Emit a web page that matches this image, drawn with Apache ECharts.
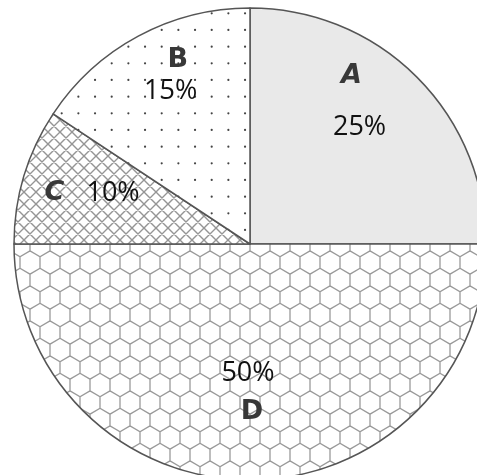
<!DOCTYPE html>
<html>
<head>
<meta charset="utf-8">
<script src="https://cdn.jsdelivr.net/npm/echarts@6/dist/echarts.min.js"></script>
<style>
html,body{margin:0;padding:0;background:#fff;}
#chart{width:477px;height:475px;}
</style>
</head>
<body>
<div id="chart"></div>
<script>
// Data (clockwise from 12 o'clock)
const categories = ['A', 'D', 'C', 'B'];
const values = [25, 50, 9.3, 15.7];
const percentLabels = ['25%', '50%', '10%', '15%'];

function makeCanvas(w, h) {
  const c = document.createElement('canvas');
  c.width = w; c.height = h;
  return c;
}
// Dots pattern
function dotsPattern() {
  const c = makeCanvas(50, 50), g = c.getContext('2d');
  g.fillStyle = '#fff'; g.fillRect(0, 0, 50, 50);
  g.fillStyle = '#444';
  for (let i = 0; i < 3; i++) for (let j = 0; j < 3; j++) {
    g.beginPath();
    g.arc(11.7 + 16.67 * i, 13.3 + 16.67 * j, 1.1, 0, Math.PI * 2);
    g.fill();
  }
  return c;
}
// Crosshatch pattern
function crossPattern() {
  const s = 12;
  const c = makeCanvas(s, s), g = c.getContext('2d');
  g.fillStyle = '#fff'; g.fillRect(0, 0, s, s);
  g.strokeStyle = '#959595'; g.lineWidth = 1.4;
  g.beginPath();
  for (let k = -1; k <= 1; k++) {
    g.moveTo(k * s, 0); g.lineTo(k * s + s, s);
    g.moveTo(k * s + s, 0); g.lineTo(k * s, s);
  }
  g.stroke();
  return c;
}
// Hexagon pattern (pointy-top)
function hexPattern() {
  const W = 20, H = 35, hw = 10, s = 35 / 3;
  const c = makeCanvas(W, H), g = c.getContext('2d');
  g.fillStyle = '#fff'; g.fillRect(0, 0, W, H);
  g.strokeStyle = '#9a9a9a'; g.lineWidth = 1.3;
  g.beginPath();
  const centers = [];
  for (let r = -1; r <= 3; r++) {
    for (let q = -1; q <= 2; q++) {
      centers.push([q * W + (r % 2 !== 0 ? hw : 0), r * 17.5]);
    }
  }
  centers.forEach(([cx, cy]) => {
    const pts = [[cx, cy - s], [cx + hw, cy - s / 2], [cx + hw, cy + s / 2], [cx, cy + s], [cx - hw, cy + s / 2], [cx - hw, cy - s / 2]];
    g.moveTo(pts[0][0], pts[0][1]);
    for (let i = 1; i <= 6; i++) g.lineTo(pts[i % 6][0], pts[i % 6][1]);
  });
  g.stroke();
  return c;
}

const fills = [
  '#e9e9e9',
  { image: hexPattern(), repeat: 'repeat' },
  { image: crossPattern(), repeat: 'repeat' },
  { image: dotsPattern(), repeat: 'repeat' }
];

const letterStyle = { fontFamily: 'DejaVu Sans', fontWeight: 'bold', fontSize: 27, color: '#383838' };
const pctStyle = { fontFamily: 'Open Sans', fontSize: 27, color: '#111' };

const labelCfg = [
  { // A
    formatter: '{n|{b}}\n{p|' + percentLabels[0] + '}',
    offset: [24, -67],
    rich: { n: Object.assign({ lineHeight: 72, padding: [0, 16, 0, 0], fontStyle: 'italic' }, letterStyle), p: Object.assign({ lineHeight: 30 }, pctStyle) }
  },
  { // D
    formatter: '{p|' + percentLabels[1] + '}\n{n|{b}}',
    offset: [-2, 27],
    rich: { n: Object.assign({ lineHeight: 38, padding: [0, 0, 0, 8] }, letterStyle), p: Object.assign({ lineHeight: 40 }, pctStyle) }
  },
  { // C
    formatter: '{n|{b}}{p|' + percentLabels[2] + '}',
    offset: [-42, -16],
    rich: { n: Object.assign({ padding: [0, 22, 0, 0], fontStyle: 'italic' }, letterStyle), p: Object.assign({}, pctStyle) }
  },
  { // B
    formatter: '{n|{b}}\n{p|' + percentLabels[3] + '}',
    offset: [-22, -62],
    rich: { n: Object.assign({ lineHeight: 32, padding: [0, 0, 0, 14] }, letterStyle), p: Object.assign({ lineHeight: 30 }, pctStyle) }
  }
];

const chart = echarts.init(document.getElementById('chart'), null, { renderer: 'canvas' });
chart.setOption({
  backgroundColor: '#fff',
  animation: false,
  series: [{
    type: 'pie',
    center: [250, 244],
    radius: [0, 236],
    startAngle: 90,
    clockwise: true,
    avoidLabelOverlap: false,
    labelLine: { show: false },
    emphasis: { disabled: true },
    itemStyle: { borderColor: '#555', borderWidth: 1.5 },
    data: categories.map((name, i) => ({
      name: name,
      value: values[i],
      itemStyle: { color: fills[i] },
      label: Object.assign({ show: true, position: 'inside', align: 'center', verticalAlign: 'middle' }, labelCfg[i])
    }))
  }]
});
</script>
</body>
</html>
